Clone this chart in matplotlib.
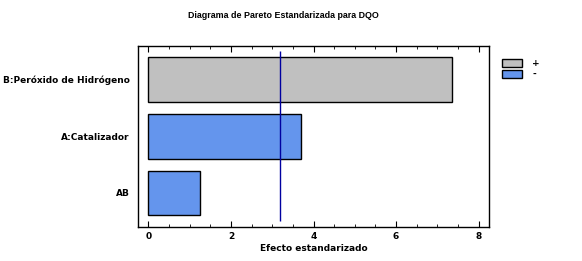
import matplotlib
matplotlib.use("Agg")
import matplotlib.pyplot as plt
from matplotlib.patches import Patch

factors = ["B:Peróxido de Hidrógeno", "A:Catalizador", "AB"]
effects = [7.36, 3.69, 1.24]
signs = ["+", "-", "-"]
critical = 3.18
xticks = [0, 2, 4, 6, 8]

colors = {"+": "#C0C0C0", "-": "#6495ED"}

fig = plt.figure(figsize=(5.82, 2.61), dpi=100)
ax = fig.add_axes([138/582, 1-227/261, (489-138)/582, (227-46)/261])

ypos = list(range(len(factors)))
ax.barh(ypos, effects, height=0.79, color=[colors[s] for s in signs],
        edgecolor="black", linewidth=1.0)
ax.vlines(critical, -0.5, 2.5, color="#0000A0", linewidth=1.0)
ax.set_xlim(-0.25, 8.25)
ax.set_ylim(2.6, -0.59)
ax.set_yticks(ypos)
ax.set_yticklabels(factors, fontsize=6.5, fontweight="bold")
ax.tick_params(axis="y", length=0, pad=6)
ax.set_xticks(xticks)
ax.set_xticks([x/2 for x in range(0, 17)], minor=True)
ax.tick_params(axis="x", which="both", direction="in", top=True, labelsize=6.5)
ax.tick_params(axis="x", which="major", length=4)
ax.tick_params(axis="x", which="minor", length=2)
for lbl in ax.get_xticklabels():
    lbl.set_fontweight("bold")
ax.set_xlabel("Efecto estandarizado", fontsize=6.5, fontweight="bold", labelpad=2)
for sp in ax.spines.values():
    sp.set_linewidth(1.0)

fig.text(283/582, 1 - 15.5/261, "Diagrama de Pareto Estandarizada para DQO",
         ha="center", va="center", fontsize=6.4, fontweight="bold",
         family="Liberation Sans")

handles = [Patch(facecolor=colors["+"], edgecolor="black", label="+"),
           Patch(facecolor=colors["-"], edgecolor="black", label="-")]
fig.legend(handles=handles, loc="upper left", bbox_to_anchor=(496/582, 1-53/261),
           frameon=False, handlelength=2.2, handleheight=0.9,
           labelspacing=0.2, handletextpad=1.1, borderpad=0.2,
           prop={"weight": "bold", "size": 6.5})

fig.savefig("out.png", dpi=100)
